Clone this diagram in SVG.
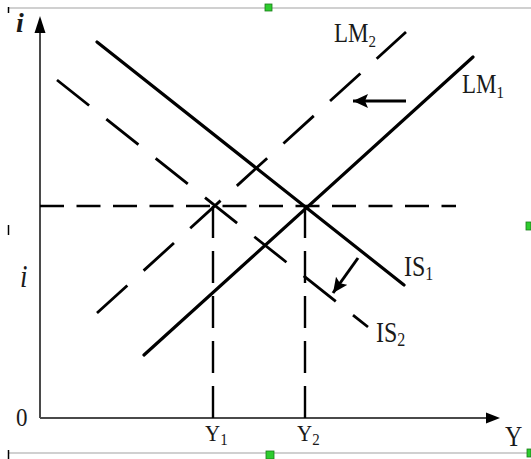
<svg xmlns="http://www.w3.org/2000/svg" width="531" height="459" viewBox="0 0 531 459">
  <style>
    .axis { stroke: #4a4a4a; stroke-width: 2; fill: none; }
    .solid { stroke: #000; stroke-width: 3.2; fill: none; stroke-linecap: round; }
    .dash { stroke: #000; stroke-width: 2.8; fill: none; stroke-dasharray: 41 22; }
    .hdash { stroke: #000; stroke-width: 2.6; fill: none; stroke-dasharray: 24 12.5; }
    .vdash { stroke: #000; stroke-width: 2.4; fill: none; stroke-dasharray: 32 13; }
    .shift { stroke: #000; stroke-width: 3; fill: none; }
    .lbl { font-family: "Liberation Serif", "Times New Roman", serif; fill: #1a1a1a; }
    .frame { stroke: #c0c0c0; stroke-width: 1.5; fill: none; }
    .handle { fill: #2ecc2e; stroke: #1a7a1a; stroke-width: 0.8; }
  </style>
  <defs>
    <marker id="head" viewBox="0 0 15 14" refX="15" refY="7" markerWidth="15" markerHeight="14" markerUnits="userSpaceOnUse" orient="auto">
      <path d="M0,0 L15,7 L0,14 L3,7 z" fill="#000"/>
    </marker>
  </defs>
  <rect width="531" height="459" fill="#fff"/>

  <!-- frame artifacts -->
  <g id="frame">
    <line class="frame" x1="8" y1="8" x2="531" y2="8"/>
    <line class="frame" x1="8" y1="453" x2="531" y2="453"/>
    <line x1="8.5" y1="7" x2="8.5" y2="13" stroke="#000" stroke-width="1.5"/>
    <line x1="8.5" y1="225" x2="8.5" y2="235" stroke="#000" stroke-width="1.5"/>
    <line x1="8.5" y1="450" x2="8.5" y2="459" stroke="#000" stroke-width="1.5"/>
    <rect class="handle" x="265" y="4" width="7" height="7"/>
    <rect class="handle" x="266" y="451" width="8" height="8"/>
    <rect class="handle" x="526" y="222" width="5" height="8"/>
    <rect class="handle" x="527" y="449" width="4" height="8"/>
  </g>

  <!-- axes -->
  <g id="axes">
    <line class="axis" x1="40" y1="418" x2="40" y2="30"/>
    <polygon points="40,16 34.5,33 45.5,33" fill="#000"/>
    <line class="axis" x1="40" y1="418" x2="488" y2="418"/>
    <polygon points="500,418 486,412.5 486,423.5" fill="#000"/>
  </g>

  <!-- reference dashed lines -->
  <g id="guides">
    <line class="hdash" x1="40" y1="206" x2="456" y2="206"/>
    <line class="vdash" x1="213" y1="206" x2="213" y2="418"/>
    <line class="vdash" x1="305" y1="206" x2="305" y2="418"/>
  </g>

  <!-- curves -->
  <g id="IS1"><line class="solid" x1="97" y1="42" x2="404" y2="285"/></g>
  <g id="LM1"><line class="solid" x1="144" y1="355" x2="473" y2="57"/></g>
  <g id="IS2"><line class="dash" x1="57" y1="80" x2="368" y2="327"/></g>
  <g id="LM2"><line class="dash" x1="97" y1="313" x2="406" y2="32"/></g>

  <!-- shift arrows -->
  <g id="connectors">
    <line class="shift" x1="406" y1="101" x2="353" y2="101" marker-end="url(#head)"/>
    <line class="shift" x1="358" y1="258" x2="333" y2="293" marker-end="url(#head)"/>
  </g>

  <!-- labels -->
  <g id="labels">
    <text class="lbl" x="16" y="32" font-size="28" font-style="italic" font-weight="bold">i</text>
    <text class="lbl" transform="translate(20,287) scale(1,1.15)" font-size="27" font-style="italic">i</text>
    <text class="lbl" transform="translate(16,426) scale(1,1.05)" font-size="23">0</text>
    <text class="lbl" transform="translate(334,42) scale(1,1.15)" font-size="23">LM<tspan font-size="15" dy="4">2</tspan></text>
    <text class="lbl" transform="translate(462,93) scale(1,1.15)" font-size="23">LM<tspan font-size="15" dy="4">1</tspan></text>
    <text class="lbl" transform="translate(404,276) scale(1,1.2)" font-size="24">IS<tspan font-size="16" dy="3">1</tspan></text>
    <text class="lbl" transform="translate(376,342) scale(1,1.2)" font-size="24">IS<tspan font-size="16" dy="3">2</tspan></text>
    <text class="lbl" transform="translate(205,441) scale(1,1.1)" font-size="21">Y<tspan font-size="15" dy="4">1</tspan></text>
    <text class="lbl" transform="translate(297,441) scale(1,1.1)" font-size="21">Y<tspan font-size="15" dy="4">2</tspan></text>
    <text class="lbl" transform="translate(505,446) scale(1,1.2)" font-size="24">Y</text>
  </g>
</svg>
